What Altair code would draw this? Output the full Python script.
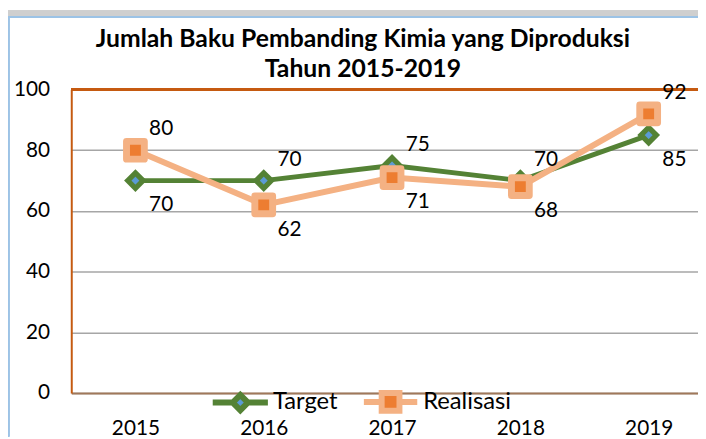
import json
import altair as alt
import pandas as pd

# ---------------- data ----------------
years = ["2015", "2016", "2017", "2018", "2019"]
target = [70, 70, 75, 70, 85]
realisasi = [80, 62, 71, 68, 92]
series_names = ["Target", "Realisasi"]
y_ticks = [0, 20, 40, 60, 80, 100]
title_lines = ["Jumlah Baku Pembanding Kimia yang Diproduksi", "Tahun 2015-2019"]

# label placement (which data labels sit above their point)
target_above = ["2016", "2017", "2018"]
real_above = ["2015", "2019"]

rows = []
for i, yr in enumerate(years):
    rows.append({"idx": i, "year": yr, "series": "Target", "value": target[i],
                 "above": yr in target_above})
    rows.append({"idx": i, "year": yr, "series": "Realisasi", "value": realisasi[i],
                 "above": yr in real_above})
df = pd.DataFrame(rows)

# ---------------- style ----------------
FONT = "Lato"
GREEN = "#548235"
BLUE = "#5B9BD5"
LORANGE = "#F4B183"
ORANGE = "#ED7D31"
BORDER = "#C55A11"
XAXIS = "#A0785A"
GRID = "#A6A6A6"

W, H = 634, 307
STEP = 129.8  # pixels per category (plot is cut off at the right like the reference)

x_enc = alt.X(
    "idx:Q",
    scale=alt.Scale(domain=[-0.5, -0.5 + W / STEP], nice=False, zero=False),
    axis=alt.Axis(
        values=list(range(len(years))),
        labelExpr=json.dumps(years) + "[datum.value]",
        title=None, grid=False, ticks=False,
        domainColor=XAXIS, domainWidth=2,
        labelFontSize=21, labelFont=FONT, labelColor="black",
        labelPadding=25,
    ),
)
y_enc = alt.Y(
    "value:Q",
    scale=alt.Scale(domain=[0, 100], nice=False),
    axis=alt.Axis(
        values=y_ticks, title=None, ticks=False,
        grid=True, gridColor=GRID, gridWidth=1.5,
        domainColor=BORDER, domainWidth=2,
        labelFontSize=21, labelFont=FONT, labelColor="black",
        labelPadding=22,
    ),
)

base = alt.Chart(df)

# decorative frame (top shadow band + light blue edge)
frame_band = base.mark_rect(color="#CFCFCF").encode(
    x=alt.value(-64), x2=alt.value(W), y=alt.value(-80), y2=alt.value(-74)
)
frame_top = base.mark_rule(color="#9DC3E6", strokeWidth=1.5).encode(
    x=alt.value(-64), x2=alt.value(W), y=alt.value(-73.5)
)
frame_left = base.mark_rule(color="#9DC3E6", strokeWidth=1.5).encode(
    x=alt.value(-63.5), y=alt.value(-74), y2=alt.value(H + 44)
)

top_border = base.mark_rule(color=BORDER, strokeWidth=2).encode(y=alt.datum(100))

t_line = base.transform_filter(alt.datum.series == "Target").mark_line(
    color=GREEN, strokeWidth=5
).encode(x=x_enc, y=y_enc)
t_pts = base.transform_filter(alt.datum.series == "Target").mark_point(
    shape="diamond", size=240, filled=True, fill=BLUE, stroke=GREEN,
    strokeWidth=5.3, opacity=1, strokeJoin="miter"
).encode(x=x_enc, y=y_enc)
r_line = base.transform_filter(alt.datum.series == "Realisasi").mark_line(
    color=LORANGE, strokeWidth=6
).encode(x=x_enc, y=y_enc)
r_pts = base.transform_filter(alt.datum.series == "Realisasi").mark_point(
    shape="square", size=324, filled=True, fill=ORANGE, stroke=LORANGE,
    strokeWidth=7, opacity=1, strokeJoin="round"
).encode(x=x_enc, y=y_enc)

lab_above = base.transform_filter(alt.datum.above).mark_text(
    font=FONT, fontSize=21, color="black", dx=26, dy=-21, baseline="middle", align="center"
).encode(x=x_enc, y=y_enc, text="value:Q")
lab_below = base.transform_filter(~alt.datum.above).mark_text(
    font=FONT, fontSize=21, color="black", dx=26, dy=25, baseline="middle", align="center"
).encode(x=x_enc, y=y_enc, text="value:Q")

# legend-only layer (draws nothing, provides the legend)
t_path = "M-3.1,0L-0.86,0M0.86,0L3.1,0M-0.86,0L0,-0.86L0.86,0L0,0.86Z"
r_path = "M-3,0L-1,0M1,0L3,0M-1,-1L1,-1L1,1L-1,1Z"
legend_layer = base.transform_filter("false").mark_point(filled=True, opacity=1).encode(
    x=x_enc, y=y_enc,
    stroke=alt.Stroke("series:N", scale=alt.Scale(domain=series_names, range=[GREEN, LORANGE]),
                      legend=alt.Legend(
                          title=None, orient="none", direction="horizontal",
                          legendX=159, legendY=304, padding=0,
                          symbolSize=324, symbolStrokeWidth=6, symbolOpacity=1,
                          labelFont=FONT, labelFontSize=24, labelColor="black",
                          labelOffset=21, columnPadding=14,
                      )),
    fill=alt.Fill("series:N", scale=alt.Scale(domain=series_names, range=[BLUE, ORANGE])),
    shape=alt.Shape("series:N", scale=alt.Scale(domain=series_names, range=[t_path, r_path])),
)

chart = alt.layer(
    frame_band, frame_top, frame_left, top_border,
    t_line, t_pts, r_line, r_pts, lab_above, lab_below, legend_layer
).properties(
    width=W, height=H,
    title=alt.TitleParams(
        text=title_lines, font=FONT, fontSize=25, fontWeight="bold", color="black",
        anchor="middle", frame="group", dx=-22, dy=78, lineHeight=30, offset=6,
    ),
    autosize=alt.AutoSizeParams(type="none"),
    padding={"left": 64, "top": 80, "right": 0, "bottom": 44},
    background="white",
).configure_view(stroke=None)

chart.save("out.html", embed_options={"renderer": "svg", "actions": False})
